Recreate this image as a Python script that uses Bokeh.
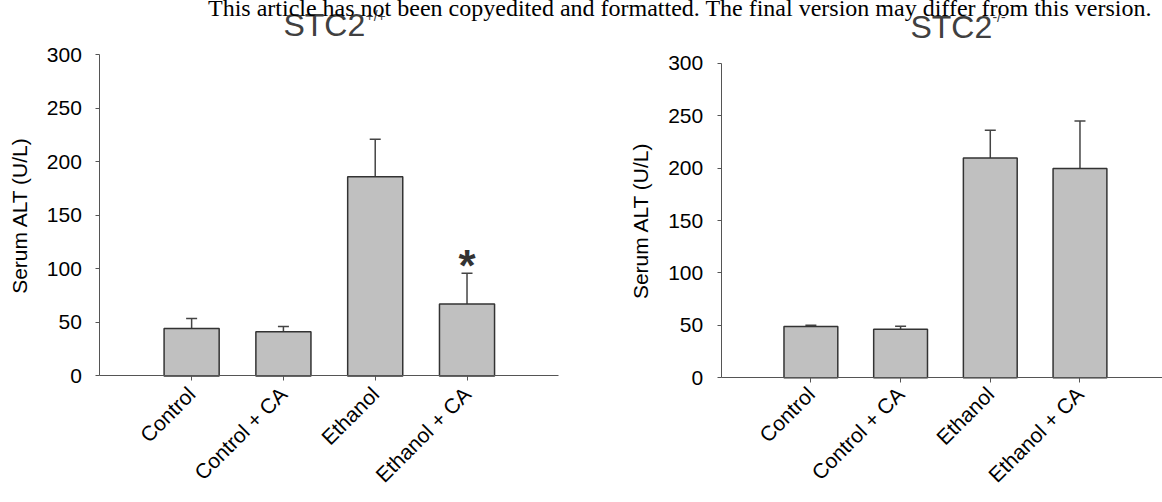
import math

from bokeh.core.properties import value
from bokeh.embed import file_html
from bokeh.layouts import column, row
from bokeh.models import (ColumnDataSource, Div, FixedTicker, LinearAxis,
                          Range1d, TeeHead, Whisker)
from bokeh.plotting import figure
from bokeh.resources import INLINE

# ---- data -------------------------------------------------------------
categories = ["Control", "Control + CA", "Ethanol", "Ethanol + CA"]

wt_alt = [44.3, 41.2, 186.0, 67.3]        # STC2 +/+ serum ALT (U/L)
wt_err = [9.3, 4.9, 35.0, 28.5]
wt_sig = ["", "", "", "*"]

ko_alt = [48.9, 46.4, 209.7, 199.5]       # STC2 -/- serum ALT (U/L)
ko_err = [1.3, 2.8, 26.3, 45.5]
ko_sig = ["", "", "", ""]

y_ticks = [0, 50, 100, 150, 200, 250, 300]
y_title = "Serum ALT (U/L)"

HEADER = ("This article has not been copyedited and formatted. "
          "The final version may differ from this version.")

SANS = "Liberation Sans"
BAR_FILL = "#c0c0c0"
BAR_LINE = "#333333"
AXIS_COLOR = "#555555"
TITLE_COLOR = "#404040"


def make_panel(vals, errs, sig, width, x_start, x_end, axis_end,
               y_start, y_end, title_pos, sup_text, sup_pos, ylabel_x):
    xs = [i + 1 for i in range(len(categories))]
    src = ColumnDataSource(dict(
        x=xs,
        value=vals,
        upper=[v + e for v, e in zip(vals, errs)],
        sig=sig,
    ))

    # the frame fills the panel above the category labels; both axis lines
    # are pinned at zero and bounded to the data extent
    p = figure(width=width, height=502, output_backend="svg",
               toolbar_location=None, x_range=Range1d(x_start, x_end),
               y_range=Range1d(y_start, y_end),
               min_border_left=0, min_border_right=0,
               min_border_top=0, min_border_bottom=113)
    p.border_fill_color = None
    p.background_fill_color = None
    p.outline_line_color = None
    p.grid.visible = False

    p.vbar(x="x", top="value", width=0.6, source=src,
           fill_color=BAR_FILL, line_color=BAR_LINE, line_width=1.5)

    whisk = Whisker(source=src, base="x", lower="value", upper="upper",
                    line_color="#444444", line_width=1.5, lower_head=None,
                    upper_head=TeeHead(size=11, line_color="#444444",
                                       line_width=1.5))
    p.add_layout(whisk)

    p.text(x="x", y="upper", text="sig", source=src,
           text_font=value(SANS), text_font_style="bold",
           text_font_size="44px", text_color="#333333",
           text_align="center", text_baseline="alphabetic", y_offset=-8)

    # panel heading with its genotype superscript
    p.text(x=[title_pos[0]], y=[title_pos[1]], text=["STC2"],
           text_font=value(SANS), text_font_size="32px",
           text_color=TITLE_COLOR, text_align="left",
           text_baseline="alphabetic")
    p.text(x=[sup_pos[0]], y=[sup_pos[1]], text=[sup_text],
           text_font=value(SANS), text_font_size="14px",
           text_color=TITLE_COLOR, text_align="left",
           text_baseline="alphabetic")

    # value-axis title, centred on the 0-300 span
    p.text(x=[ylabel_x], y=[150], text=[y_title], angle=math.pi / 2,
           text_font=value(SANS), text_font_size="21px",
           text_color="#000000", text_align="center",
           text_baseline="middle")

    # x axis line and ticks sit on y = 0 ...
    xa = p.xaxis[0]
    xa.fixed_location = 0
    xa.ticker = FixedTicker(ticks=xs)
    xa.minor_tick_line_color = None
    xa.major_tick_in = 0
    xa.major_tick_out = 5
    xa.major_label_text_color = None
    xa.bounds = (0, axis_end)
    xa.axis_line_color = AXIS_COLOR
    xa.major_tick_line_color = AXIS_COLOR

    # ... and the group names hang below it
    names = LinearAxis(ticker=FixedTicker(ticks=xs),
                       major_label_overrides={x: c for x, c in
                                              zip(xs, categories)},
                       major_label_orientation=math.pi / 4,
                       axis_line_color=None, major_tick_line_color=None,
                       minor_tick_line_color=None, major_tick_in=0,
                       major_tick_out=0, major_label_standoff=1,
                       major_label_text_font=SANS,
                       major_label_text_font_size="21px",
                       major_label_text_color="#000000")
    p.add_layout(names, "below")

    ya = p.yaxis[0]
    ya.fixed_location = 0
    ya.ticker = FixedTicker(ticks=y_ticks)
    ya.bounds = (0, 300)
    ya.minor_tick_line_color = None
    ya.major_tick_in = 0
    ya.major_tick_out = 4
    ya.major_label_standoff = 14
    ya.axis_line_color = AXIS_COLOR
    ya.major_tick_line_color = AXIS_COLOR
    ya.major_label_text_font = SANS
    ya.major_label_text_font_size = "21px"
    ya.major_label_text_color = "#000000"
    return p


left = make_panel(wt_alt, wt_err, wt_sig, width=620,
                  x_start=-1.082, x_end=5.672, axis_end=5.0,
                  y_start=-12.6, y_end=350.4,
                  title_pos=(2.0, 328.0), sup_text="+/+",
                  sup_pos=(2.894, 335.9), ylabel_x=-0.875)

right = make_panel(ko_alt, ko_err, ko_sig, width=542,
                   x_start=-1.1226, x_end=4.92, axis_end=4.92,
                   y_start=-11.16, y_end=359.8,
                   title_pos=(2.11, 335.0), sup_text="-/-",
                   sup_pos=(3.024, 344.3), ylabel_x=-0.895)

# page banner laid over the top of both panels
header = Div(
    text=('<div style="font-family:\'Liberation Serif\'; font-size:24px; '
          'line-height:24px; white-space:nowrap; color:#000; '
          'position:relative; top:-9px; left:203px;">' + HEADER + '</div>'),
    width=1162, height=20,
    styles={"position": "absolute", "top": "0px", "left": "0px",
            "z-index": "5"})

layout = column(row(left, right), header)

open("out.html", "w").write(file_html(layout, INLINE))
